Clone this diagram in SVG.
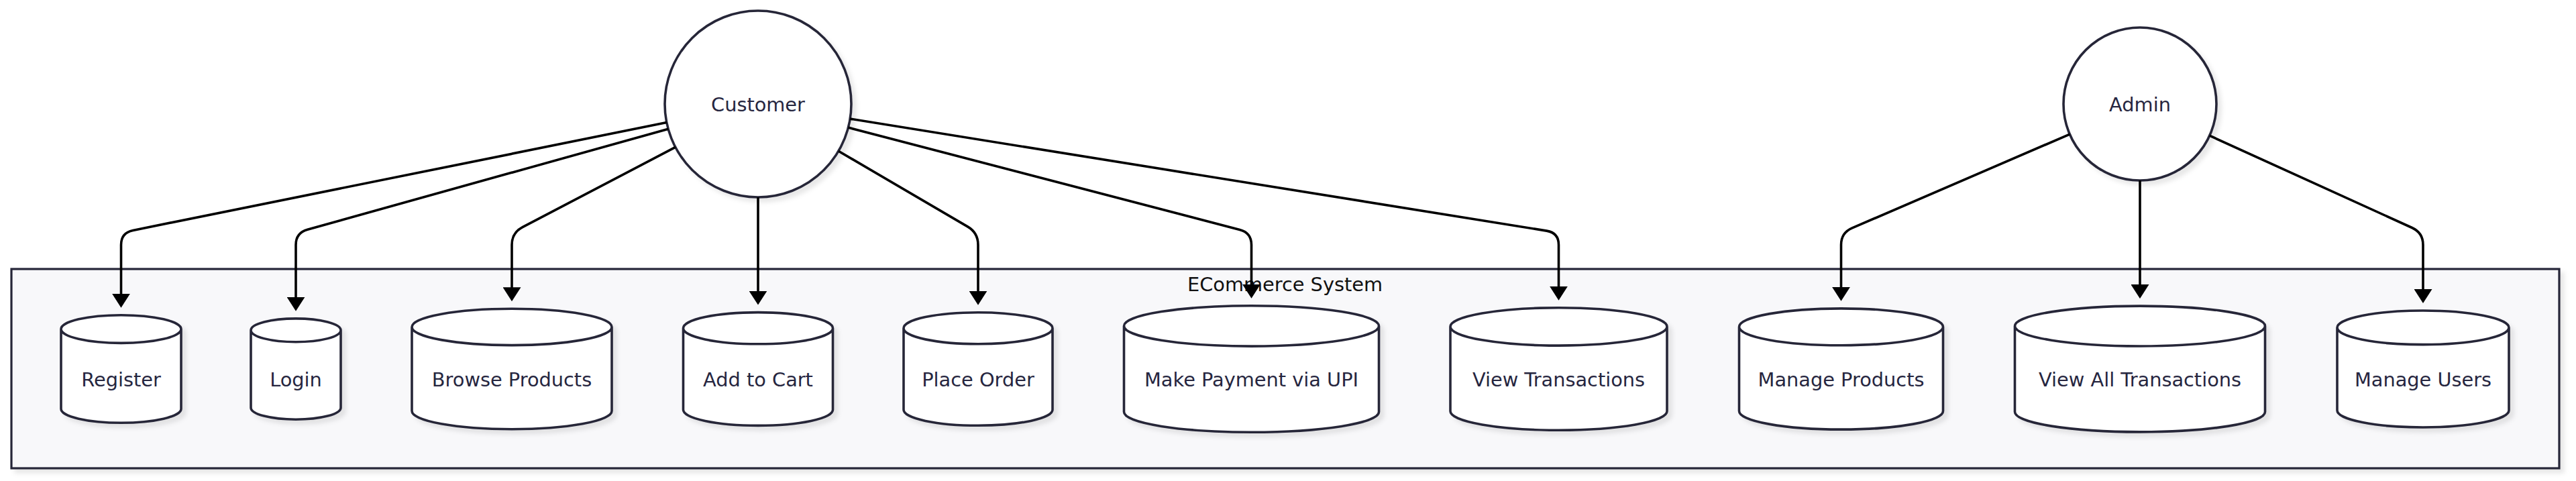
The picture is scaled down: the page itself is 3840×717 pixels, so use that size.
<svg xmlns="http://www.w3.org/2000/svg" width="3840" height="717" viewBox="0 0 3840 717">
<style>
.node{fill:#ffffff;stroke:#272739;stroke-width:3.6;filter:url(#sh)}
.lbl{font-family:"DejaVu Sans",Verdana,sans-serif;font-size:28.8px;fill:#26263f;text-anchor:middle}
.title{font-family:"DejaVu Sans",Verdana,sans-serif;font-size:28.8px;fill:#111111;text-anchor:middle}
.edge{fill:none;stroke:#000000;stroke-width:3.6;marker-end:url(#arrow)}
.cluster{fill:#f8f8fa;stroke:#272739;stroke-width:3.2;filter:url(#sh)}
</style>
<defs>
<filter id="sh" x="-5%" y="-5%" width="115%" height="125%">
<feDropShadow dx="6" dy="6" stdDeviation="3" flood-color="#000000" flood-opacity="0.09"/>
</filter>
<marker id="arrow" viewBox="0 0 21 27" refX="1" refY="13.5" markerWidth="21" markerHeight="27" markerUnits="userSpaceOnUse" orient="auto">
<path d="M0,0 L21,13.5 L0,27 z" fill="#000000"/>
</marker>
</defs>
<rect width="3840" height="717" fill="#ffffff"/>
<g id="cluster-ecommerce">
<rect class="cluster" x="17" y="401" width="3798" height="297"/>
<text class="title" x="1915.5" y="434">ECommerce System</text>
</g>
<g id="node-customer">
<circle class="node" cx="1130" cy="155" r="139"/>
<text class="lbl" x="1130" y="166">Customer</text>
</g>
<g id="node-admin">
<circle class="node" cx="3190" cy="155" r="114"/>
<text class="lbl" x="3190" y="166">Admin</text>
</g>
<g id="node-register">
<path class="node" d="M91,490.56 A89.5,20.86 0 0 0 270,490.56 A89.5,20.86 0 0 0 91,490.56 L91,609.42 A89.5,20.86 0 0 0 270,609.42 L270,490.56"/>
<text class="lbl" x="180.5" y="576">Register</text>
</g>
<g id="node-login">
<path class="node" d="M374,492.28 A67,17.45 0 0 0 508,492.28 A67,17.45 0 0 0 374,492.28 L374,607.73 A67,17.45 0 0 0 508,607.73 L508,492.28"/>
<text class="lbl" x="441" y="576">Login</text>
</g>
<g id="node-browse">
<path class="node" d="M614,487.41 A149,27.19 0 0 0 912,487.41 A149,27.19 0 0 0 614,487.41 L614,612.6 A149,27.19 0 0 0 912,612.6 L912,487.41"/>
<text class="lbl" x="763" y="576">Browse Products</text>
</g>
<g id="node-cart">
<path class="node" d="M1018.5,489.22 A111.5,23.57 0 0 0 1241.5,489.22 A111.5,23.57 0 0 0 1018.5,489.22 L1018.5,610.79 A111.5,23.57 0 0 0 1241.5,610.79 L1241.5,489.22"/>
<text class="lbl" x="1130" y="576">Add to Cart</text>
</g>
<g id="node-order">
<path class="node" d="M1347,489.24 A111,23.52 0 0 0 1569,489.24 A111,23.52 0 0 0 1347,489.24 L1347,610.76 A111,23.52 0 0 0 1569,610.76 L1569,489.24"/>
<text class="lbl" x="1458" y="576">Place Order</text>
</g>
<g id="node-payment">
<path class="node" d="M1675.5,485.92 A190,30.16 0 0 0 2055.5,485.92 A190,30.16 0 0 0 1675.5,485.92 L1675.5,614.08 A190,30.16 0 0 0 2055.5,614.08 L2055.5,485.92"/>
<text class="lbl" x="1865.5" y="576">Make Payment via UPI</text>
</g>
<g id="node-transactions">
<path class="node" d="M2162,486.91 A161.5,28.18 0 0 0 2485,486.91 A161.5,28.18 0 0 0 2162,486.91 L2162,613.09 A161.5,28.18 0 0 0 2485,613.09 L2485,486.91"/>
<text class="lbl" x="2323.5" y="576">View Transactions</text>
</g>
<g id="node-manage-products">
<path class="node" d="M2592.5,487.28 A152,27.44 0 0 0 2896.5,487.28 A152,27.44 0 0 0 2592.5,487.28 L2592.5,612.72 A152,27.44 0 0 0 2896.5,612.72 L2896.5,487.28"/>
<text class="lbl" x="2744.5" y="576">Manage Products</text>
</g>
<g id="node-all-transactions">
<path class="node" d="M3003.5,486.03 A186.5,29.94 0 0 0 3376.5,486.03 A186.5,29.94 0 0 0 3003.5,486.03 L3003.5,613.97 A186.5,29.94 0 0 0 3376.5,613.97 L3376.5,486.03"/>
<text class="lbl" x="3190" y="576">View All Transactions</text>
</g>
<g id="node-manage-users">
<path class="node" d="M3484,488.35 A128,25.3 0 0 0 3740,488.35 A128,25.3 0 0 0 3484,488.35 L3484,611.65 A128,25.3 0 0 0 3740,611.65 L3740,488.35"/>
<text class="lbl" x="3612" y="576">Manage Users</text>
</g>
<g id="connectors">
<path class="edge" d="M993.8,182.6 L198.1,343.4 Q180.5,347 180.5,365 L180.5,438.7"/>
<path class="edge" d="M996.1,192.3 L458.3,342.2 Q441,347 441,365 L441,443.8"/>
<path class="edge" d="M1006.8,219.4 L778.9,338.7 Q763,347 763,365 L763,429.2"/>
<path class="edge" d="M1130,294 L1130,434.6"/>
<path class="edge" d="M1250,225.2 L1442.5,337.9 Q1458,347 1458,365 L1458,434.7"/>
<path class="edge" d="M1264.5,190.1 L1848.1,342.5 Q1865.5,347 1865.5,365 L1865.5,424.8"/>
<path class="edge" d="M1267.2,177.1 L2305.7,344.1 Q2323.5,347 2323.5,365 L2323.5,427.7"/>
<path class="edge" d="M3085.3,200.1 L2761,339.9 Q2744.5,347 2744.5,365 L2744.5,428.8"/>
<path class="edge" d="M3190,269 L3190,425.1"/>
<path class="edge" d="M3293.8,202.2 L3595.6,339.5 Q3612,347 3612,365 L3612,432"/>
</g>
</svg>
